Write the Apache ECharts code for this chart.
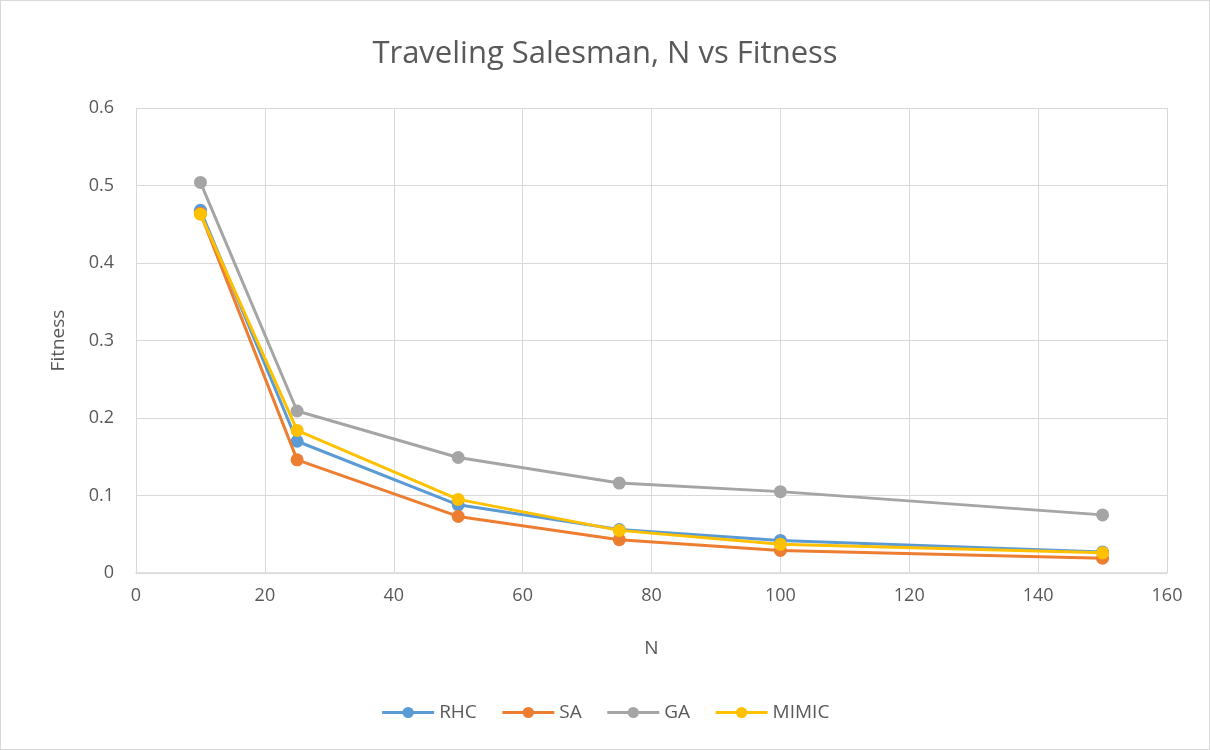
<!DOCTYPE html>
<html>
<head>
<meta charset="utf-8">
<script src="https://cdn.jsdelivr.net/npm/echarts@6/dist/echarts.min.js"></script>
<style>
  html, body { margin: 0; padding: 0; background: #fff; }
  #chart { width: 1210px; height: 750px; box-sizing: border-box; border: 1px solid #d9d9d9; }
</style>
</head>
<body>
<div id="chart"></div>
<script>
// Problem sizes (N) and the fitness reached by each algorithm
const nValues = [10, 25, 50, 75, 100, 150];
const rhc   = [0.468, 0.170, 0.088, 0.056, 0.042, 0.027];
const sa    = [0.464, 0.146, 0.073, 0.043, 0.029, 0.019];
const ga    = [0.504, 0.209, 0.149, 0.116, 0.105, 0.075];
const mimic = [0.463, 0.184, 0.095, 0.055, 0.037, 0.026];

const seriesNames  = ['RHC', 'SA', 'GA', 'MIMIC'];
const seriesData   = [rhc, sa, ga, mimic];
const seriesColors = ['#5b9bd5', '#ed7d31', '#a5a5a5', '#ffc000'];

const font = '"Open Sans", "Liberation Sans", sans-serif';
const chart = echarts.init(document.getElementById('chart'));

chart.setOption({
  animation: false,
  title: {
    text: 'Traveling Salesman, N vs Fitness',
    left: 'center',
    top: 33,
    textStyle: { fontFamily: font, fontSize: 31, fontWeight: 'normal', color: '#595959' }
  },
  legend: {
    bottom: 22,
    left: 'center',
    itemWidth: 52,
    itemHeight: 14,
    itemGap: 24,
    lineStyle: { width: 3 },
    textStyle: { fontFamily: font, fontSize: 19, color: '#595959' },
    data: seriesNames
  },
  grid: { left: 135, right: 42, top: 107, bottom: 176 },
  xAxis: {
    type: 'value',
    min: 0, max: 160, interval: 20,
    name: 'N',
    nameLocation: 'middle',
    nameGap: 66,
    nameTextStyle: { fontFamily: font, fontSize: 19, color: '#595959' },
    axisLine: { show: true, lineStyle: { color: '#d9d9d9', width: 1.5 } },
    axisTick: { show: false },
    axisLabel: { fontFamily: font, fontSize: 18, color: '#595959', margin: 14 },
    splitLine: { show: true, lineStyle: { color: '#d9d9d9', width: 1 } }
  },
  yAxis: {
    type: 'value',
    min: 0, max: 0.6, interval: 0.1,
    name: 'Fitness',
    nameLocation: 'middle',
    nameGap: 68,
    nameTextStyle: { fontFamily: font, fontSize: 19, color: '#595959' },
    axisLine: { show: false },
    axisTick: { show: false },
    axisLabel: { fontFamily: font, fontSize: 18, color: '#595959', margin: 22 },
    splitLine: { show: true, lineStyle: { color: '#d9d9d9', width: 1 } }
  },
  series: seriesNames.map((name, i) => ({
    name: name,
    type: 'line',
    data: nValues.map((n, j) => [n, seriesData[i][j]]),
    symbol: 'circle',
    symbolSize: 13,
    lineStyle: { width: 3, color: seriesColors[i] },
    itemStyle: { color: seriesColors[i] },
    z: 2 + i
  }))
});
</script>
</body>
</html>
